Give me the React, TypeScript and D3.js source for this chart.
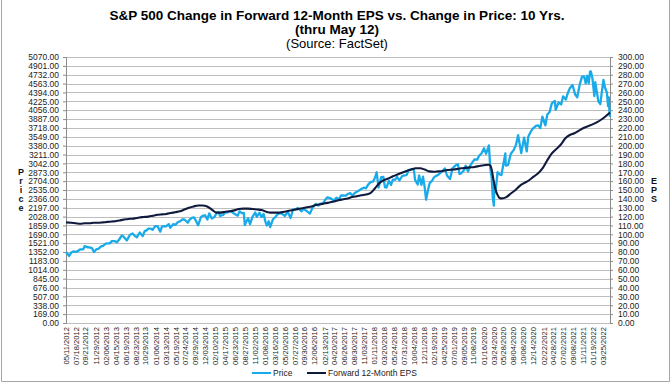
import React, { useEffect, useRef } from 'react';
import * as d3 from 'd3';

// S&P 500 price (left axis)
const priceSeries: [string, number][] = [
  ['2012-05-11', 1353], ['2012-06-01', 1278], ['2012-06-15', 1343], ['2012-07-02', 1365], ['2012-07-16', 1353],
  ['2012-08-01', 1375], ['2012-08-15', 1405], ['2012-09-04', 1404], ['2012-09-14', 1466], ['2012-10-01', 1444],
  ['2012-10-15', 1440], ['2012-11-01', 1427], ['2012-11-15', 1353], ['2012-12-03', 1409], ['2012-12-14', 1413],
  ['2013-01-02', 1462], ['2013-01-15', 1472], ['2013-02-01', 1513], ['2013-02-15', 1519], ['2013-03-01', 1518],
  ['2013-03-15', 1560], ['2013-04-01', 1562], ['2013-04-18', 1541], ['2013-05-01', 1582], ['2013-05-21', 1669],
  ['2013-06-03', 1640], ['2013-06-24', 1573], ['2013-07-01', 1614], ['2013-07-15', 1682], ['2013-08-01', 1706],
  ['2013-08-15', 1661], ['2013-08-30', 1633], ['2013-09-18', 1725], ['2013-10-08', 1656], ['2013-10-22', 1754],
  ['2013-11-01', 1761], ['2013-11-15', 1798], ['2013-12-02', 1800], ['2013-12-13', 1775], ['2013-12-31', 1848],
  ['2014-01-15', 1848], ['2014-02-03', 1742], ['2014-02-14', 1838], ['2014-03-03', 1845], ['2014-03-14', 1841],
  ['2014-04-01', 1885], ['2014-04-11', 1815], ['2014-05-01', 1884], ['2014-05-15', 1870], ['2014-06-02', 1925],
  ['2014-06-16', 1937], ['2014-07-01', 1973], ['2014-07-15', 1973], ['2014-08-07', 1910], ['2014-08-15', 1955],
  ['2014-09-02', 2002], ['2014-09-18', 2011], ['2014-10-01', 1946], ['2014-10-15', 1862], ['2014-11-03', 2018],
  ['2014-11-14', 2040], ['2014-12-01', 2053], ['2014-12-16', 1972], ['2014-12-29', 2090],
  ['2015-01-15', 1992], ['2015-02-02', 2020], ['2015-02-17', 2100], ['2015-03-02', 2117], ['2015-03-11', 2040],
  ['2015-04-01', 2059], ['2015-04-15', 2106], ['2015-05-01', 2108], ['2015-05-18', 2130], ['2015-06-01', 2111],
  ['2015-06-15', 2084], ['2015-07-08', 2046], ['2015-07-20', 2128], ['2015-08-04', 2093], ['2015-08-18', 2097],
  ['2015-08-25', 1867], ['2015-09-01', 1914], ['2015-09-16', 1996], ['2015-09-29', 1884], ['2015-10-15', 2023],
  ['2015-11-03', 2109], ['2015-11-13', 2023], ['2015-12-01', 2103], ['2015-12-14', 2021], ['2015-12-29', 2078],
  ['2016-01-11', 1923], ['2016-01-20', 1859], ['2016-02-01', 1940], ['2016-02-11', 1829], ['2016-03-01', 1978],
  ['2016-03-15', 2016], ['2016-04-01', 2073], ['2016-04-18', 2095], ['2016-05-02', 2081], ['2016-05-19', 2040],
  ['2016-06-08', 2119], ['2016-06-27', 2001], ['2016-07-14', 2164], ['2016-08-01', 2171], ['2016-08-15', 2190],
  ['2016-09-09', 2128], ['2016-09-22', 2177], ['2016-10-14', 2133], ['2016-11-04', 2085], ['2016-11-21', 2198],
  ['2016-12-13', 2271], ['2016-12-30', 2239],
  ['2017-01-13', 2275], ['2017-02-01', 2279], ['2017-02-15', 2349], ['2017-03-01', 2396], ['2017-03-15', 2385],
  ['2017-04-03', 2359], ['2017-04-13', 2329], ['2017-05-01', 2388], ['2017-05-17', 2357], ['2017-06-01', 2430],
  ['2017-06-15', 2432], ['2017-07-03', 2429], ['2017-07-17', 2459], ['2017-08-01', 2476], ['2017-08-17', 2430],
  ['2017-09-01', 2477], ['2017-09-15', 2500], ['2017-10-02', 2529], ['2017-10-16', 2557], ['2017-11-01', 2579],
  ['2017-11-15', 2565], ['2017-12-01', 2642], ['2017-12-18', 2690],
  ['2018-01-02', 2696], ['2018-01-16', 2776], ['2018-01-26', 2873], ['2018-02-08', 2581], ['2018-02-26', 2780],
  ['2018-03-12', 2783], ['2018-03-23', 2588], ['2018-04-02', 2582], ['2018-04-18', 2708], ['2018-05-03', 2630],
  ['2018-05-14', 2730], ['2018-06-01', 2735], ['2018-06-12', 2787], ['2018-06-28', 2716], ['2018-07-16', 2798],
  ['2018-08-01', 2813], ['2018-08-15', 2818], ['2018-08-29', 2914], ['2018-09-20', 2931], ['2018-10-03', 2925],
  ['2018-10-11', 2728], ['2018-10-29', 2641], ['2018-11-07', 2814], ['2018-11-23', 2633], ['2018-12-03', 2790],
  ['2018-12-14', 2600], ['2018-12-24', 2351],
  ['2019-01-07', 2550], ['2019-01-18', 2671], ['2019-02-01', 2707], ['2019-02-15', 2775], ['2019-03-01', 2804],
  ['2019-03-15', 2822], ['2019-04-01', 2867], ['2019-04-15', 2906], ['2019-04-30', 2946], ['2019-05-13', 2812],
  ['2019-06-03', 2744], ['2019-06-20', 2954], ['2019-07-15', 3014], ['2019-07-26', 3026], ['2019-08-05', 2845],
  ['2019-08-15', 2848], ['2019-09-03', 2906], ['2019-09-16', 2998], ['2019-10-02', 2888], ['2019-10-15', 2996],
  ['2019-11-01', 3067], ['2019-11-15', 3120], ['2019-12-02', 3114], ['2019-12-16', 3192], ['2019-12-31', 3231],
  ['2020-01-17', 3330], ['2020-01-31', 3226], ['2020-02-19', 3386], ['2020-02-28', 2954], ['2020-03-09', 2747],
  ['2020-03-16', 2386], ['2020-03-23', 2237], ['2020-03-26', 2630], ['2020-04-03', 2489], ['2020-04-17', 2875],
  ['2020-05-01', 2831], ['2020-05-13', 2820], ['2020-06-08', 3232], ['2020-06-11', 3002], ['2020-06-26', 3009],
  ['2020-07-15', 3227], ['2020-08-03', 3295], ['2020-08-18', 3390], ['2020-09-02', 3580], ['2020-09-23', 3237],
  ['2020-10-12', 3534], ['2020-10-30', 3270], ['2020-11-09', 3550], ['2020-11-24', 3635], ['2020-12-08', 3702],
  ['2020-12-31', 3756],
  ['2021-01-15', 3768], ['2021-01-29', 3714], ['2021-02-12', 3934], ['2021-03-04', 3768], ['2021-03-17', 3974],
  ['2021-04-01', 4020], ['2021-04-16', 4185], ['2021-05-07', 4232], ['2021-05-12', 4063], ['2021-06-01', 4202],
  ['2021-06-18', 4166], ['2021-07-01', 4320], ['2021-07-19', 4258], ['2021-08-02', 4387], ['2021-08-16', 4479],
  ['2021-09-02', 4537], ['2021-09-20', 4358], ['2021-10-04', 4300], ['2021-10-21', 4549], ['2021-11-05', 4697],
  ['2021-11-19', 4698], ['2021-11-30', 4567], ['2021-12-10', 4712], ['2021-12-20', 4568], ['2021-12-29', 4793],
  ['2022-01-03', 4797], ['2022-01-14', 4663], ['2022-01-27', 4326], ['2022-02-02', 4589], ['2022-02-23', 4225],
  ['2022-03-08', 4171], ['2022-03-16', 4358], ['2022-03-29', 4632], ['2022-04-08', 4488], ['2022-04-21', 4393],
  ['2022-04-29', 4132], ['2022-05-04', 4300], ['2022-05-09', 3991], ['2022-05-12', 3930],
];

// Forward 12-month EPS (right axis)
const epsSeries: [string, number][] = [
  ['2012-05-11', 113.5], ['2012-06-15', 113], ['2012-07-15', 112.5], ['2012-08-15', 112], ['2012-09-15', 112.5],
  ['2012-10-15', 112.5], ['2012-11-15', 113], ['2012-12-15', 113],
  ['2013-01-15', 113.5], ['2013-02-15', 114], ['2013-03-15', 114.5], ['2013-04-15', 115], ['2013-05-15', 116],
  ['2013-06-15', 117], ['2013-07-15', 117.5], ['2013-08-15', 118], ['2013-09-15', 119], ['2013-10-15', 119.5],
  ['2013-11-15', 120], ['2013-12-15', 121],
  ['2014-01-15', 122], ['2014-02-15', 122.5], ['2014-03-15', 123], ['2014-04-15', 124], ['2014-05-15', 125],
  ['2014-06-15', 126], ['2014-07-15', 128], ['2014-08-15', 130], ['2014-09-15', 131.5], ['2014-10-15', 132.5],
  ['2014-11-15', 132.5], ['2014-12-15', 131.5],
  ['2015-01-15', 128], ['2015-02-15', 124.5], ['2015-03-15', 124.5], ['2015-04-15', 125.5], ['2015-05-15', 126],
  ['2015-06-15', 127], ['2015-07-15', 128.5], ['2015-08-15', 129], ['2015-09-15', 129], ['2015-10-15', 128.5],
  ['2015-11-15', 128], ['2015-12-15', 127.5],
  ['2016-01-15', 125.5], ['2016-02-15', 124.5], ['2016-03-15', 124.5], ['2016-04-15', 124.5], ['2016-05-15', 125.5],
  ['2016-06-15', 126.5], ['2016-07-15', 127.5], ['2016-08-15', 128.5], ['2016-09-15', 129.5], ['2016-10-15', 130.5],
  ['2016-11-15', 131.5], ['2016-12-15', 133],
  ['2017-01-15', 134], ['2017-02-15', 135], ['2017-03-15', 136], ['2017-04-15', 137], ['2017-05-15', 138.5],
  ['2017-06-15', 139.5], ['2017-07-15', 140.5], ['2017-08-15', 142], ['2017-09-15', 143], ['2017-10-15', 144],
  ['2017-11-15', 145], ['2017-12-15', 146.5],
  ['2018-01-15', 152], ['2018-02-15', 158], ['2018-03-15', 161], ['2018-04-15', 163], ['2018-05-15', 165.5],
  ['2018-06-15', 167.5], ['2018-07-15', 169.5], ['2018-08-15', 171.5], ['2018-09-15', 173], ['2018-10-15', 174.5],
  ['2018-11-15', 174.5], ['2018-12-15', 173],
  ['2019-01-15', 171], ['2019-02-15', 170.5], ['2019-03-15', 171], ['2019-04-15', 171.5], ['2019-05-15', 172.5],
  ['2019-06-15', 173], ['2019-07-15', 173.5], ['2019-08-15', 174.5], ['2019-09-15', 175], ['2019-10-15', 175.5],
  ['2019-11-15', 176], ['2019-12-15', 177],
  ['2020-01-15', 178], ['2020-02-15', 178.5], ['2020-02-26', 178], ['2020-03-10', 172], ['2020-03-20', 162],
  ['2020-04-01', 152], ['2020-04-15', 145], ['2020-05-01', 141], ['2020-05-15', 140.5], ['2020-06-15', 142],
  ['2020-07-15', 146], ['2020-08-15', 150], ['2020-09-15', 155], ['2020-10-15', 158], ['2020-11-15', 161],
  ['2020-12-15', 165],
  ['2021-01-15', 169], ['2021-02-15', 175], ['2021-03-15', 183], ['2021-04-15', 191], ['2021-05-15', 196],
  ['2021-06-15', 201], ['2021-07-15', 208], ['2021-08-15', 212], ['2021-09-15', 214], ['2021-10-15', 217],
  ['2021-11-15', 220], ['2021-12-15', 222],
  ['2022-01-15', 224], ['2022-02-15', 226.5], ['2022-03-15', 229.5], ['2022-04-15', 233.5], ['2022-05-12', 237.5],
];

const priceTicks = [0, 169, 338, 507, 676, 845, 1014, 1183, 1352, 1521, 1690, 1859, 2028, 2197, 2366, 2535,
  2704, 2873, 3042, 3211, 3380, 3549, 3718, 3887, 4056, 4225, 4394, 4563, 4732, 4901, 5070];
const epsTicks = [0, 10, 20, 30, 40, 50, 60, 70, 80, 90, 100, 110, 120, 130, 140, 150, 160, 170, 180, 190,
  200, 210, 220, 230, 240, 250, 260, 270, 280, 290, 300];

const dateLabels = [
  '05/11/2012', '07/18/2012', '09/21/2012', '11/29/2012', '02/06/2013', '04/15/2013', '06/19/2013', '08/23/2013',
  '10/29/2013', '01/06/2014', '03/13/2014', '05/19/2014', '07/24/2014', '09/29/2014', '12/03/2014', '02/10/2015',
  '04/17/2015', '06/23/2015', '08/27/2015', '11/02/2015', '01/08/2016', '03/16/2016', '05/20/2016', '07/27/2016',
  '09/30/2016', '12/06/2016', '02/13/2017', '04/20/2017', '06/26/2017', '08/30/2017', '11/03/2017', '01/11/2018',
  '03/20/2018', '05/24/2018', '07/31/2018', '10/04/2018', '12/11/2018', '02/19/2019', '04/25/2019', '07/01/2019',
  '09/05/2019', '11/08/2019', '01/16/2020', '03/24/2020', '05/28/2020', '08/04/2020', '10/08/2020', '12/14/2020',
  '02/22/2021', '04/28/2021', '07/02/2021', '09/08/2021', '11/11/2021', '01/19/2022', '03/25/2022',
];

const titleLines = [
  'S&P 500 Change in Forward 12-Month EPS vs. Change in Price: 10 Yrs.',
  '(thru May 12)',
  '(Source: FactSet)',
];

const PRICE_COLOR = '#19abe9';
const EPS_COLOR = '#0f1a3d';
const FONT = '"Liberation Sans", Arial, sans-serif';

function App() {
  const svgRef = useRef<SVGSVGElement>(null);

  useEffect(() => {
    const W = 672, H = 384;
    const left = 66, right = 610, top = 57, bottom = 323;
    const parse = d3.timeParse('%Y-%m-%d');
    const parseLabel = d3.timeParse('%m/%d/%Y');

    const svg = d3.select(svgRef.current).attr('width', W).attr('height', H);
    svg.selectAll('*').remove();

    svg.append('rect').attr('width', W).attr('height', H).attr('fill', '#fff');
    // outer frame
    svg.append('path')
      .attr('d', `M1.5,0 V381.5 H669.5 V0`)
      .attr('fill', 'none').attr('stroke', '#a6a6a6');

    const x = d3.scaleTime()
      .domain([parse('2012-05-11')!, parse('2022-05-12')!])
      .range([left, right]);
    const yP = d3.scaleLinear().domain([0, 5070]).range([bottom, top]);
    const yE = d3.scaleLinear().domain([0, 300]).range([bottom, top]);

    // title
    const title = svg.append('g').attr('font-family', FONT).attr('text-anchor', 'middle').attr('fill', '#000');
    title.append('text').attr('x', 337).attr('y', 20).attr('font-size', 13.5).attr('font-weight', 'bold').text(titleLines[0]);
    title.append('text').attr('x', 337).attr('y', 34).attr('font-size', 13.5).attr('font-weight', 'bold').text(titleLines[1]);
    title.append('text').attr('x', 337).attr('y', 48).attr('font-size', 13).text(titleLines[2]);

    // gridlines
    svg.append('g').selectAll('line').data(priceTicks).join('line')
      .attr('x1', left).attr('x2', right)
      .attr('y1', d => Math.round(yP(d)) + 0.5).attr('y2', d => Math.round(yP(d)) + 0.5)
      .attr('stroke', '#bdbdbd').attr('stroke-width', 1);

    // left axis
    const gL = svg.append('g').attr('transform', `translate(${left},0)`)
      .call(d3.axisLeft(yP).tickValues(priceTicks).tickFormat(d3.format('.2f')).tickSize(3).tickPadding(4));
    gL.select('.domain').attr('stroke', '#8c8c8c');
    gL.selectAll('.tick line').attr('stroke', '#8c8c8c');
    gL.selectAll('text').attr('font-family', FONT).attr('font-size', 8.5).attr('fill', '#222');

    // right axis
    const gR = svg.append('g').attr('transform', `translate(${right},0)`)
      .call(d3.axisRight(yE).tickValues(epsTicks).tickFormat(d3.format('.2f')).tickSize(3).tickPadding(5));
    gR.select('.domain').attr('stroke', '#8c8c8c');
    gR.selectAll('.tick line').attr('stroke', '#8c8c8c');
    gR.selectAll('text').attr('font-family', FONT).attr('font-size', 8.5).attr('fill', '#222');

    // vertical axis titles
    const stack = (letters: string, xPos: number, startVal: number, scale: d3.ScaleLinear<number, number>, step: number) => {
      svg.append('g').selectAll('text').data(letters.split('')).join('text')
        .attr('x', xPos).attr('y', (_, i) => scale(startVal - i * step))
        .attr('dy', '0.35em').attr('text-anchor', 'middle')
        .attr('font-family', FONT).attr('font-size', 9).attr('font-weight', 'bold').attr('fill', '#111')
        .text(d => d);
    };
    stack('Price', 21, 2873, yP, 169);
    stack('EPS', 654, 160, yE, 10);

    // date labels
    svg.append('g').selectAll('text').data(dateLabels).join('text')
      .attr('transform', d => `translate(${x(parseLabel(d)!)},${bottom + 4}) rotate(-90)`)
      .attr('dy', '0.35em').attr('text-anchor', 'end')
      .attr('font-family', FONT).attr('font-size', 7.6).attr('fill', '#222')
      .text(d => d);

    // lines
    const priceLine = d3.line<[string, number]>().x(d => x(parse(d[0])!)).y(d => yP(d[1]));
    const epsLine = d3.line<[string, number]>().x(d => x(parse(d[0])!)).y(d => yE(d[1])).curve(d3.curveMonotoneX);

    svg.append('path').datum(priceSeries).attr('d', priceLine)
      .attr('fill', 'none').attr('stroke', PRICE_COLOR).attr('stroke-width', 2.3).attr('stroke-linejoin', 'round');
    svg.append('path').datum(epsSeries).attr('d', epsLine)
      .attr('fill', 'none').attr('stroke', EPS_COLOR).attr('stroke-width', 2.1);

    // legend
    const lg = svg.append('g').attr('font-family', FONT).attr('font-size', 8.5).attr('fill', '#222');
    const items = [
      { label: 'Price', color: PRICE_COLOR, x: 252 },
      { label: 'Forward 12-Month EPS', color: EPS_COLOR, x: 307 },
    ];
    items.forEach(it => {
      lg.append('line').attr('x1', it.x).attr('x2', it.x + 19).attr('y1', 373).attr('y2', 373)
        .attr('stroke', it.color).attr('stroke-width', 2);
      lg.append('text').attr('x', it.x + 21).attr('y', 373).attr('dy', '0.35em').text(it.label);
    });
  }, []);

  return (
    <div style={{ position: 'absolute', left: 0, top: 0 }}>
      <svg ref={svgRef}></svg>
    </div>
  );
}

export default App;
